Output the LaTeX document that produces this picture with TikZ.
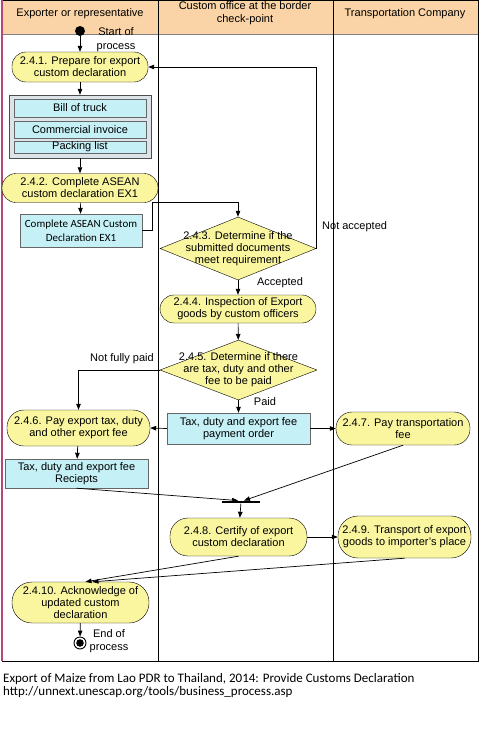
\documentclass[tikz,border=0pt]{standalone}
\usepackage{fontspec}
\setmainfont{Liberation Sans}
\newfontfamily\calfont{Carlito}
\usepackage{tikz}
\usetikzlibrary{calc,arrows.meta,positioning,shapes.geometric}
\definecolor{laneHead}{HTML}{FAD4A6}
\definecolor{fillAct}{HTML}{FAF6A0}
\definecolor{fillDoc}{HTML}{C4F0F6}
\definecolor{fillGrp}{HTML}{DCE4EA}
\definecolor{laneLeft}{HTML}{B4467E}

\tikzset{
  act/.style={rectangle, rounded corners=#1, draw, fill=fillAct, align=center, inner sep=0pt,
    font=\fontsize{11}{12}\selectfont},
  act/.default=14pt,
  dec/.style={diamond, draw, fill=fillAct, inner sep=0pt},
  doc/.style={rectangle, draw=black!60, fill=fillDoc, align=center, inner sep=0pt,
    font=\fontsize{11}{12.5}\selectfont},
  lbl/.style={font=\fontsize{11}{12}\selectfont, align=center, inner sep=0pt},
  flow/.style={-{Triangle[length=6pt,width=4.5pt]}, line width=0.7pt}
}

\begin{document}
\begin{tikzpicture}[x=1pt, y=-1pt]
      \useasboundingbox (0,0) rectangle (479,737);

      % Swimlanes: header band, lane dividers and frame
      \fill[laneHead] (2,0) rectangle (478,34);
      \draw[black!50] (2,34) -- (478,34);
      \draw (158,0) -- (158,661);
      \draw (333,0) -- (333,661);
      \draw (2,0) rectangle (478,661);
      \draw[laneLeft, line width=1.2pt] (2,0) -- (2,661);
      \node[lbl] (hExp) at (80,14) {Exporter or representative};
      \node[lbl, font=\fontsize{11}{13}\selectfont] (hCus) at (245,13.5) {Custom office at the border\\check-point};
      \node[lbl] (hTra) at (405,14) {Transportation Company};

      % Start of process
      \node[circle, fill, minimum size=10pt, inner sep=0pt] (start) at (80,31) {};
      \node[lbl, font=\fontsize{11}{14}\selectfont] (startLbl) at (116,39.5) {Start of\\process};

      % Exporter lane, upper part
      \node[act, minimum width=136pt, minimum height=30pt] (a241) at (80,67)
        {2.4.1. Prepare for export\\custom declaration};
      \node[rectangle, draw=black!70, fill=fillGrp, minimum width=142pt, minimum height=63pt] (docs) at (80,126.5) {};
      \node[doc, minimum width=132pt, minimum height=18pt] (dBill) at (80,108) {Bill of truck};
      \node[doc, minimum width=132pt, minimum height=17pt] (dInv) at (80,129.5) {Commercial invoice};
      \node[doc, minimum width=132pt, minimum height=12pt] (dPack) at (80,147) {Packing list};
      \node[act, minimum width=156pt, minimum height=29pt] (a242) at (80,188)
        {2.4.2. Complete ASEAN\\custom declaration EX1};
      \node[doc, minimum width=122pt, minimum height=33pt, font=\calfont\fontsize{11}{13.5}\selectfont] (ex1) at (81,230.5)
        {Complete ASEAN Custom\\Declaration EX1};

      % Custom office lane (diamond outline, then its text on top)
      \node[dec, minimum width=156pt, minimum height=63pt] (d243) at (238,248.5) {};
      \node[lbl] (d243t) at (d243) {2.4.3. Determine if the\\submitted documents\\meet requirement};
      \node[act, minimum width=156pt, minimum height=28pt] (a244) at (238,309)
        {2.4.4. Inspection of Export\\goods by custom officers};
      \node[dec, minimum width=157pt, minimum height=60pt] (d245) at (238.5,370) {};
      \node[lbl] (d245t) at (d245) {2.4.5. Determine if there\\are tax, duty and other\\fee to be paid};
      \node[doc, minimum width=143pt, minimum height=31pt] (order) at (238.5,428.5)
        {Tax, duty and export fee\\payment order};

      % Payment row
      \node[act=17pt, minimum width=143pt, minimum height=36pt] (a246) at (78.5,428)
        {2.4.6. Pay export tax, duty\\and other export fee};
      \node[act=16pt, minimum width=134pt, minimum height=33pt] (a247) at (403,428.5)
        {2.4.7. Pay transportation\\fee};
      \node[doc, minimum width=143pt, minimum height=29pt] (rcpt) at (76.5,473.5)
        {Tax, duty and export fee\\Reciepts};

      % Join bar
      \node[rectangle, fill, minimum width=38pt, minimum height=2.5pt, inner sep=0pt] (bar) at (241,502) {};
      \coordinate (barL) at ($(bar.north)+(-3,0)$);
      \coordinate (barR) at ($(bar.north)+(3,0)$);

      % Lower part
      \node[act=18pt, minimum width=137pt, minimum height=38pt] (a248) at (238.5,537)
        {2.4.8. Certify of export\\custom declaration};
      \node[act=20pt, minimum width=133pt, minimum height=42pt] (a249) at (404.5,537)
        {2.4.9. Transport of export\\goods to importer's place};
      \node[act=20pt, minimum width=137pt, minimum height=41pt] (a2410) at (80.5,602.5)
        {2.4.10. Acknowledge of\\updated custom\\declaration};
      \coordinate (inL) at ($(a2410.north)+(5,0)$);
      \coordinate (inR) at ($(a2410.north)+(12,0)$);

      % End of process
      \node[circle, draw, line width=0.9pt, minimum size=12pt, inner sep=0pt,
        path picture={\fill (path picture bounding box.center) circle (3.8pt);}] (stop) at (80,643) {};
      \node[lbl, font=\fontsize{11}{13}\selectfont] (stopLbl) at (109,641.5) {End of\\process};

      % Connectors
      \draw[flow] (start) -- (a241);
      \draw[flow] (a241) -- (docs);
      \draw[flow] (docs) -- (a242);
      \draw[flow] (a242) -- (ex1);
      \coordinate (k1) at ($(ex1.east)+(10,0)$);
      \coordinate (k2) at (d243.north |- a242.south);
      \draw[flow] (ex1.east) -- (k1) |- (k2) -- (d243.north);
      \draw[flow] (d243.east) |- (a241.east);
      \node[lbl, anchor=west] (lblNo) at (322,227) {Not accepted};
      \draw[flow] (d243) -- (a244);
      \node[lbl] (lblYes) at (280,283) {Accepted};
      \draw[flow] (a244) -- (d245);
      \draw[flow] (d245.west) -| (a246.north);
      \node[lbl] (lblPart) at (122,359) {Not fully paid};
      \draw[flow] (d245) -- (order);
      \node[lbl] (lblPaid) at (265,402) {Paid};
      \draw[flow] (order.west) -- (a246.east);
      \draw[flow] (order.east) -- (a247.west);
      \draw[flow] (a246) -- (rcpt);
      \draw[flow] (rcpt.south) -- (barL);
      \draw[flow] (a247.south) -- (barR);
      \draw[flow] (bar) -- (a248);
      \draw[flow] (a248) -- (a249);
      \draw[flow] (a248.south) -- (inL);
      \draw[flow] (a249.south) -- (inR);
      \draw[flow] (a2410) -- (stop);

      % Source caption
      \node[anchor=north west, align=left, inner sep=0pt, font=\calfont\fontsize{13}{13.5}\selectfont] (src) at (3,673)
        {Export of Maize from Lao PDR to Thailand, 2014: Provide Customs Declaration\\
         http://unnext.unescap.org/tools/business\_process.asp};
\end{tikzpicture}
\end{document}
